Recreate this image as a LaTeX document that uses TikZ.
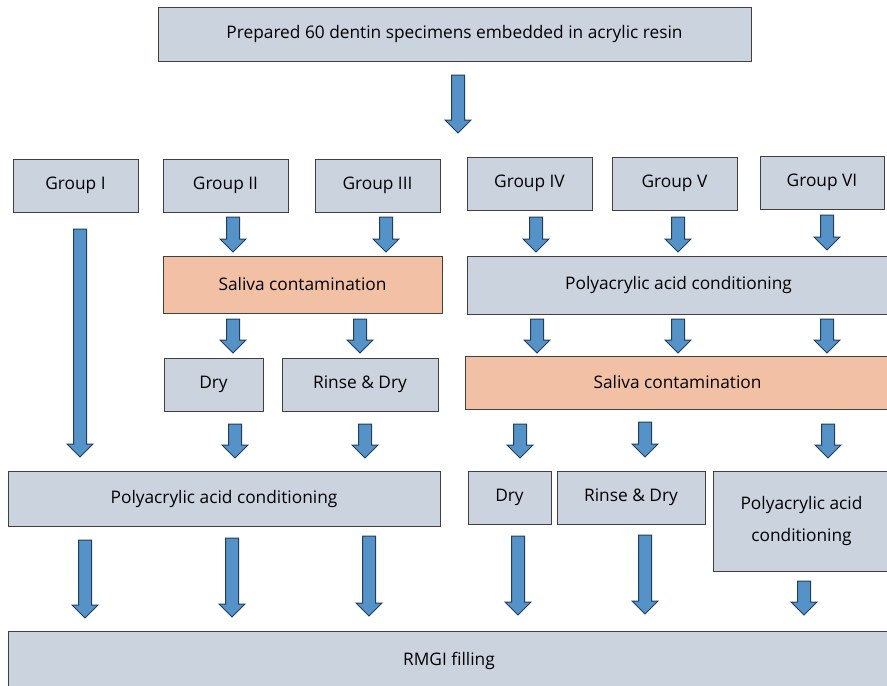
\documentclass[tikz,border=0pt]{standalone}
\usepackage{fontspec}
\setmainfont{Open Sans}
\definecolor{boxfill}{HTML}{CBD3DF}
\definecolor{salfill}{HTML}{F2C1A5}
\definecolor{boxline}{HTML}{404040}
\definecolor{arrfill}{HTML}{5592C8}
\definecolor{arrline}{HTML}{233E5C}
\tikzset{
  box/.style={draw=boxline, line width=0.9pt, fill=boxfill, inner sep=0pt, align=center, font=\fontsize{17.3}{32}\selectfont},
  salbox/.style={box, fill=salfill},
  barrow/.style={draw=arrline, line width=1pt, fill=arrfill, line join=miter},
}
\newcommand{\blkarrow}[3]{% x, ytop, ytip
  \draw[barrow] (#1-6.5,#2) -- (#1+6.5,#2) -- (#1+6.5,#3-13) -- (#1+13,#3-13) -- (#1,#3) -- (#1-13,#3-13) -- (#1-6.5,#3-13) -- cycle;}
\begin{document}
\begin{tikzpicture}[x=1pt,y=-1pt]
\useasboundingbox[fill=white] (0,0) rectangle (887,686);
\node[box, minimum width=593, minimum height=54] (top) at (454.5,34) {Prepared 60 dentin specimens embedded in acrylic resin};
\node[box, minimum width=125, minimum height=53] (g1) at (75.5,185.5) {Group I};
\node[box, minimum width=125, minimum height=53] (g2) at (225.5,185.5) {Group II};
\node[box, minimum width=125, minimum height=53] (g3) at (377.5,185.5) {Group III};
\node[box, minimum width=125, minimum height=53] (g4) at (529.5,183.5) {Group IV};
\node[box, minimum width=125, minimum height=53] (g5) at (674.5,183.5) {Group V};
\node[box, minimum width=124, minimum height=53] (g6) at (822,182.5) {Group VI};
\node[salbox, minimum width=279, minimum height=57] (sal1) at (302.5,284.5) {Saliva contamination};
\node[box, minimum width=423, minimum height=58] (pac1) at (678.5,285) {Polyacrylic acid conditioning};
\node[box, minimum width=99, minimum height=53] (dry1) at (213.5,384.5) {Dry};
\node[box, minimum width=156, minimum height=53] (rd1) at (360,384.5) {Rinse \& Dry};
\node[salbox, minimum width=425, minimum height=53] (sal2) at (677.5,382.5) {Saliva contamination};
\node[box, minimum width=432, minimum height=55] (pac2) at (224,498.5) {Polyacrylic acid conditioning};
\node[box, minimum width=83, minimum height=53] (dry2) at (509.5,497.5) {Dry};
\node[box, minimum width=148, minimum height=53] (rd2) at (631,497.5) {Rinse \& Dry};
\node[box, minimum width=177, minimum height=100] (pac3) at (801.5,521) {Polyacrylic acid\\conditioning};
\node[box, minimum width=882, minimum height=59] (rmgi) at (449,660.5) {RMGI filling};
% arrows
\blkarrow{458}{75}{133}
\blkarrow{80}{229}{457}
\blkarrow{233}{217}{252}
\blkarrow{386}{217}{252}
\blkarrow{536}{217}{252}
\blkarrow{678}{217}{252}
\blkarrow{827}{215}{250}
\blkarrow{233}{319}{353}
\blkarrow{360}{319}{353}
\blkarrow{537}{319}{353}
\blkarrow{678}{319}{353}
\blkarrow{827}{319}{353}
\blkarrow{235}{424}{458}
\blkarrow{365}{424}{458}
\blkarrow{520}{424}{458}
\blkarrow{645}{422}{457}
\blkarrow{828}{424}{458}
\blkarrow{85}{540}{618}
\blkarrow{232}{538}{617}
\blkarrow{369}{536}{616}
\blkarrow{518}{536}{615}
\blkarrow{645}{535}{614}
\blkarrow{804}{581}{615}
\end{tikzpicture}
\end{document}
